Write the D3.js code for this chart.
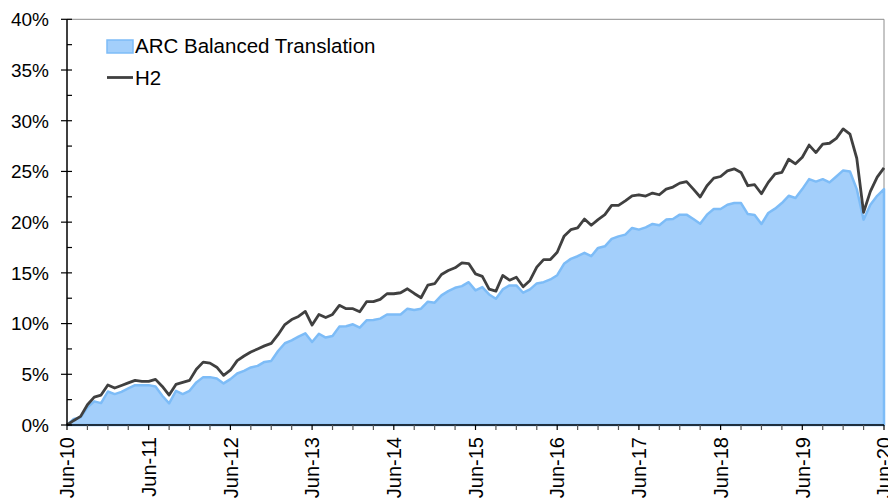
<!DOCTYPE html>
<html>
<head>
<meta charset="utf-8">
<script src="https://cdn.jsdelivr.net/npm/d3@7"></script>
<style>
  body { margin: 0; background: #fff; }
  text { font-family: "Liberation Sans", Arial, sans-serif; fill: #000; }
</style>
</head>
<body>
<svg id="chart" width="888" height="501"></svg>
<script>
// monthly values, Jun-10 .. Jun-20 (121 months), in %
const arcValues = [
  0, 0.6, 0.75, 1.74, 2.33, 2.16, 3.3, 3.05, 3.27, 3.6, 3.93, 3.93, 3.93,
  3.8, 2.88, 2.13, 3.37, 3.05, 3.37, 4.2, 4.72, 4.72, 4.59, 4.1, 4.52,
  5.08, 5.34, 5.67, 5.83, 6.22, 6.32, 7.3, 8.06, 8.35, 8.72, 9.04, 8.19,
  9.0, 8.62, 8.78, 9.7, 9.73, 9.93, 9.6, 10.32, 10.35, 10.49, 10.9, 10.9,
  10.9, 11.47, 11.33, 11.47, 12.16, 12.06, 12.78, 13.2, 13.53, 13.69, 14.08, 13.27,
  13.6, 12.87, 12.45, 13.37, 13.76, 13.76, 13.04, 13.37, 13.96, 14.08, 14.35, 14.77,
  15.89, 16.38, 16.64, 16.97, 16.64, 17.46, 17.62, 18.35, 18.6, 18.77, 19.43, 19.26,
  19.49, 19.82, 19.69, 20.25, 20.31, 20.74, 20.74, 20.31, 19.85, 20.74, 21.3, 21.3,
  21.72, 21.88, 21.88, 20.8, 20.7, 19.82, 20.9, 21.33, 21.88, 22.6, 22.38, 23.26,
  24.24, 24.0, 24.24, 23.92, 24.5, 25.1, 25.0, 23.26, 20.25, 21.72, 22.6, 23.26
];
const h2Values = [
  0, 0.45, 0.85, 2.0, 2.75, 2.95, 3.95, 3.65, 3.9, 4.15, 4.4, 4.3, 4.3,
  4.5, 3.8, 2.95, 4.0, 4.2, 4.4, 5.5, 6.2, 6.1, 5.7, 4.9, 5.4,
  6.35, 6.8, 7.2, 7.5, 7.8, 8.05, 8.9, 9.9, 10.4, 10.7, 11.2, 9.85,
  10.9, 10.6, 10.9, 11.8, 11.47, 11.47, 11.17, 12.16, 12.16, 12.38, 12.94, 12.94,
  13.04, 13.43, 12.97, 12.55, 13.79, 13.93, 14.84, 15.23, 15.5, 15.99, 15.92, 14.9,
  14.65, 13.4, 13.2, 14.74, 14.28, 14.57, 13.63, 14.25, 15.56, 16.31, 16.31, 17.03,
  18.6, 19.26, 19.43, 20.31, 19.69, 20.25, 20.74, 21.65, 21.65, 22.1, 22.6, 22.7,
  22.57, 22.87, 22.7, 23.26, 23.46, 23.85, 24.0, 23.26, 22.48, 23.59, 24.34, 24.5,
  25.06, 25.26, 24.9, 23.59, 23.69, 22.8, 23.92, 24.77, 24.9, 26.2, 25.75, 26.4,
  27.6, 26.86, 27.7, 27.78, 28.26, 29.19, 28.67, 26.3, 20.96, 23.03, 24.44, 25.35
];
const yearLabels = ["Jun-10", "Jun-11", "Jun-12", "Jun-13", "Jun-14", "Jun-15",
  "Jun-16", "Jun-17", "Jun-18", "Jun-19", "Jun-20"];
const yTicks = [0, 5, 10, 15, 20, 25, 30, 35, 40];
const seriesNames = ["ARC Balanced Translation", "H2"];

const plotLeft = 67, plotRight = 884, plotTop = 19.3, plotBottom = 425;
const svg = d3.select("#chart");

const x = d3.scaleLinear().domain([0, arcValues.length - 1]).range([plotLeft, plotRight]);
const y = d3.scaleLinear().domain([0, 40]).range([plotBottom, plotTop]);

// plot border (top + right)
svg.append("path")
  .attr("d", `M${plotLeft},${plotTop}H${plotRight}V${plotBottom}`)
  .attr("fill", "none")
  .attr("stroke", "#8c8c8c")
  .attr("stroke-width", 1);

// area series
const area = d3.area()
  .x((d, i) => x(i))
  .y0(y(0))
  .y1(d => y(d));
svg.append("path")
  .datum(arcValues)
  .attr("d", area)
  .attr("fill", "#a3cffb")
  .attr("stroke", "#7dbcf7")
  .attr("stroke-width", 2.5)
  .attr("stroke-linejoin", "round");

// line series
const line = d3.line()
  .x((d, i) => x(i))
  .y(d => y(d));
svg.append("path")
  .datum(h2Values)
  .attr("d", line)
  .attr("fill", "none")
  .attr("stroke", "#404040")
  .attr("stroke-width", 2.8)
  .attr("stroke-linejoin", "round");

// y axis
const yAxis = svg.append("g").attr("transform", `translate(${plotLeft},0)`);
yAxis.append("line")
  .attr("x1", 0).attr("x2", 0).attr("y1", plotTop).attr("y2", plotBottom)
  .attr("stroke", "#000").attr("stroke-width", 1.5);
d3.range(0, 40.01, 2.5).forEach(v => {
  const major = v % 5 === 0;
  yAxis.append("line")
    .attr("x1", major ? -6 : 0).attr("x2", 5)
    .attr("y1", y(v)).attr("y2", y(v))
    .attr("stroke", "#000").attr("stroke-width", 1.2);
});
yAxis.selectAll("text.ytick")
  .data(yTicks)
  .join("text")
  .attr("class", "ytick")
  .attr("x", -18)
  .attr("y", d => y(d))
  .attr("dy", "0.36em")
  .attr("text-anchor", "end")
  .style("font-size", "19px")
  .text(d => d + "%");

// x axis
const xAxis = svg.append("g").attr("transform", `translate(0,${plotBottom})`);
xAxis.append("line")
  .attr("x1", plotLeft).attr("x2", plotRight).attr("y1", 0).attr("y2", 0)
  .attr("stroke", "#000").attr("stroke-width", 1.5);
d3.range(0, arcValues.length, 3).forEach(i => {
  xAxis.append("line")
    .attr("x1", x(i)).attr("x2", x(i)).attr("y1", 0).attr("y2", 5)
    .attr("stroke", i % 12 === 0 ? "#000" : "#555").attr("stroke-width", 1.2);
});
xAxis.selectAll("text.xtick")
  .data(yearLabels)
  .join("text")
  .attr("class", "xtick")
  .attr("transform", (d, i) => `translate(${x(i * 12)},12) rotate(-90)`)
  .attr("dy", "0.36em")
  .attr("text-anchor", "end")
  .style("font-size", "20px")
  .text(d => d);

// legend
const legend = svg.append("g");
legend.append("rect")
  .attr("x", 107).attr("y", 40).attr("width", 26).attr("height", 13)
  .attr("fill", "#a3cffb").attr("stroke", "#7dbcf7").attr("stroke-width", 1.5);
legend.append("text")
  .attr("x", 135).attr("y", 46).attr("dy", "0.36em")
  .style("font-size", "20.5px")
  .text(seriesNames[0]);
legend.append("line")
  .attr("x1", 107).attr("x2", 133).attr("y1", 77.5).attr("y2", 77.5)
  .attr("stroke", "#404040").attr("stroke-width", 2.8);
legend.append("text")
  .attr("x", 135).attr("y", 77.5).attr("dy", "0.36em")
  .style("font-size", "20.5px")
  .text(seriesNames[1]);
</script>
</body>
</html>
